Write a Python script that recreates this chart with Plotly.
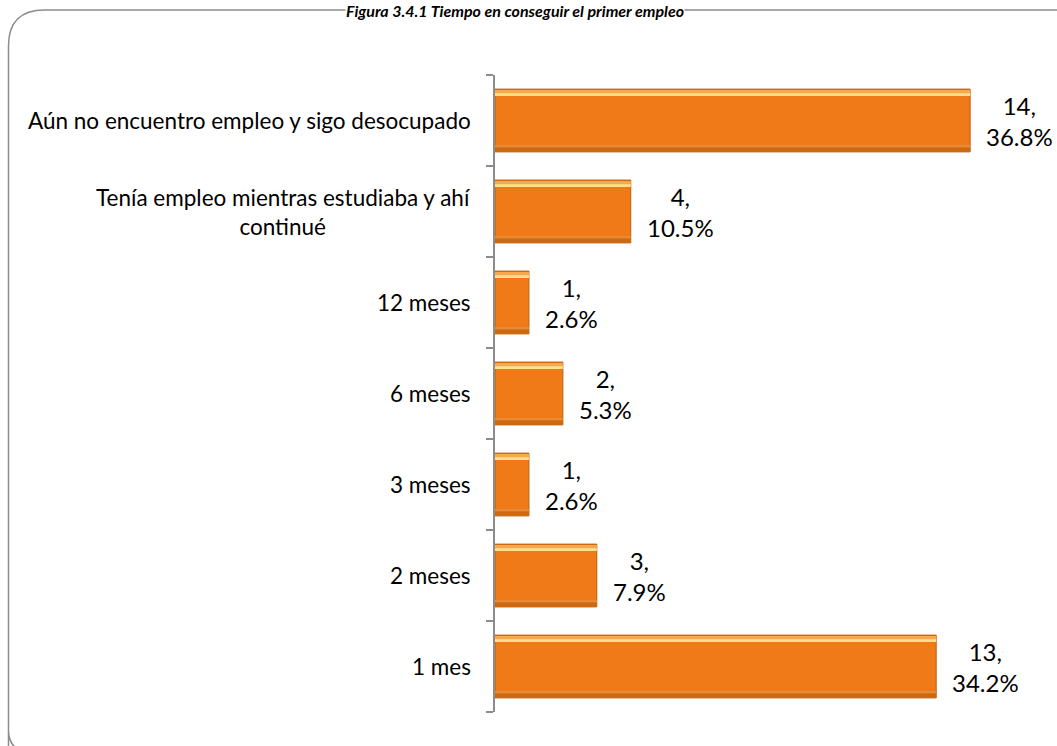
import plotly.graph_objects as go

categories = ["1 mes", "2 meses", "3 meses", "6 meses", "12 meses",
              "Tenía empleo mientras estudiaba y ahí<br>continué",
              "Aún no encuentro empleo y sigo desocupado"]
counts = [13, 3, 1, 2, 1, 4, 14]
percents = [34.2, 7.9, 2.6, 5.3, 2.6, 10.5, 36.8]
title_text = "Figura 3.4.1 Tiempo en conseguir el primer empleo"

W, H = 1057, 746
L, R, T, B = 495, 19, 75, 34
PW, PH = W - L - R, H - T - B
FONT = "Lato"

def px(x):
    return (x - L) / PW

def py(y):
    return (H - B - y) / PH

fig = go.Figure()
BW = 0.69
# base bar
fig.add_trace(go.Bar(y=categories, x=counts, orientation="h", width=BW,
                     marker=dict(color="#EF7A17", line=dict(color="#B8600F", width=1)),
                     hoverinfo="skip", showlegend=False))
# top bevel highlight
fig.add_trace(go.Bar(y=categories, x=counts, orientation="h", width=0.05, offset=BW/2 - 0.06,
                     marker=dict(color="#F7A950", line=dict(width=0)),
                     hoverinfo="skip", showlegend=False))
fig.add_trace(go.Bar(y=categories, x=counts, orientation="h", width=0.03, offset=BW/2 - 0.075,
                     marker=dict(color="#FFE08E", line=dict(width=0)),
                     hoverinfo="skip", showlegend=False))
# bottom bevel shade
fig.add_trace(go.Bar(y=categories, x=counts, orientation="h", width=0.05, offset=-BW/2,
                     marker=dict(color="#CC6A12", line=dict(width=0)),
                     hoverinfo="skip", showlegend=False))
fig.add_trace(go.Bar(y=categories, x=counts, orientation="h", width=0.025, offset=-BW/2 + 0.05,
                     marker=dict(color="#E58A3A", line=dict(width=0)),
                     hoverinfo="skip", showlegend=False))

annotations = []
for c, n, p in zip(categories, counts, percents):
    annotations.append(dict(x=n, y=c, xref="x", yref="y", xanchor="left", yanchor="middle",
                            xshift=14, align="center", showarrow=False,
                            text=f"{n},<br>{p:.1f}%",
                            font=dict(family=FONT, size=24, color="#000000")))
    annotations.append(dict(x=px(473), y=c, xref="paper", yref="y", xanchor="right", yanchor="middle",
                            align="center", showarrow=False, text=c,
                            font=dict(family=FONT, size=22.5, color="#000000")))
annotations.append(dict(x=px(515), y=py(0), xref="paper", yref="paper", xanchor="center",
                        yanchor="top", showarrow=False, text=f"<b><i>{title_text}</i></b>",
                        bgcolor="white", borderpad=0,
                        font=dict(family=FONT, size=16, color="#000000")))

# rounded frame
fx0, fy0 = 8.5, 10
path = (f"M {px(fx0)},{py(760)} L {px(fx0)},{py(730)} Q {px(fx0)},{py(752)} {px(32)},{py(752)} "
        f"M {px(fx0)},{py(730)} L {px(fx0)},{py(fy0+36)} Q {px(fx0)},{py(fy0)} {px(fx0+36)},{py(fy0)} "
        f"L {px(1080)},{py(fy0)}")
shapes = [dict(type="path", xref="paper", yref="paper", path=path,
               line=dict(color="#8C8C8C", width=1.5), layer="below")]

fig.update_layout(
    width=W, height=H,
    margin=dict(l=L, r=R, t=T, b=B),
    paper_bgcolor="white", plot_bgcolor="white",
    barmode="overlay", bargap=0.31,
    font=dict(family=FONT, size=20, color="#000000"),
    annotations=annotations, shapes=shapes,
    xaxis=dict(range=[0, 16], visible=False, showgrid=False, zeroline=False, fixedrange=True),
    yaxis=dict(type="category", categoryorder="array", categoryarray=categories,
               showticklabels=False, showgrid=False, zeroline=False,
               showline=True, linecolor="#8C8C8C", linewidth=1.5,
               ticks="outside", tickson="boundaries", ticklen=7, tickcolor="#8C8C8C",
               tickwidth=1.5, fixedrange=True),
    showlegend=False,
)

fig.write_html("out.html", config={"displayModeBar": False},
               post_script="document.body.style.margin='0';document.body.style.overflow='hidden';")
